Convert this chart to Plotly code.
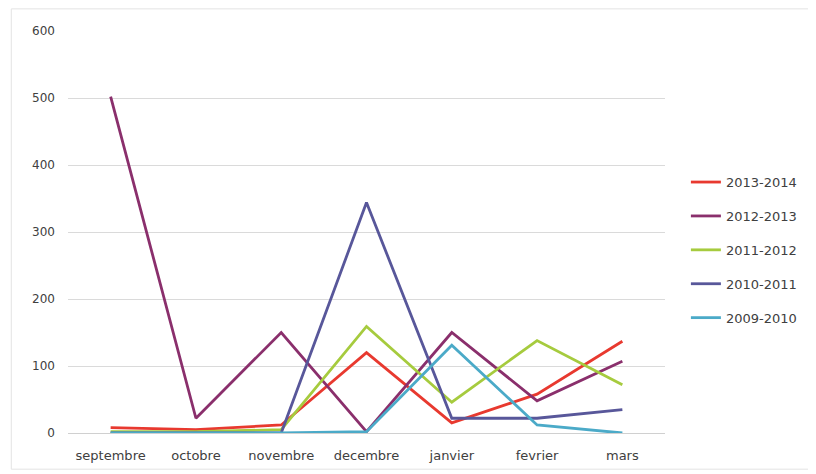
import plotly.graph_objects as go

months = ["septembre", "octobre", "novembre", "decembre", "janvier", "fevrier", "mars"]

s_2013_2014 = [8, 5, 12, 120, 15, 58, 137]
s_2012_2013 = [502, 22, 150, 2, 150, 48, 107]
s_2011_2012 = [2, 2, 5, 159, 46, 138, 72]
s_2010_2011 = [0, 0, 0, 344, 22, 22, 35]
s_2009_2010 = [0, 0, 0, 2, 131, 12, 0]

series = [
    ("2013-2014", s_2013_2014, "#E8392F"),
    ("2012-2013", s_2012_2013, "#8A2F6C"),
    ("2011-2012", s_2011_2012, "#A6CB3E"),
    ("2010-2011", s_2010_2011, "#58579A"),
    ("2009-2010", s_2009_2010, "#4BAAC8"),
]

fig = go.Figure()
for name, vals, col in series:
    fig.add_trace(go.Scatter(
        x=months, y=vals, name=name, mode="lines",
        line=dict(color=col, width=2.8),
        legendgroup=name,
    ))

fig.update_layout(
    width=808, height=466,
    margin=dict(l=60, r=151, t=23, b=41),
    paper_bgcolor="white", plot_bgcolor="white",
    font=dict(family="DejaVu Sans, Liberation Sans, sans-serif", size=13, color="#404040"),
    showlegend=True,
    legend=dict(
        x=1.035, xanchor="left", y=0.455, yanchor="middle",
        traceorder="grouped", tracegroupgap=14,
        font=dict(size=13, color="#404040"),
        bgcolor="rgba(0,0,0,0)",
    ),
    xaxis=dict(
        type="category", range=[-0.5, 6.5], automargin=False,
        showgrid=False, showline=False, zeroline=False,
        ticks="", ticklabelstandoff=13,
        tickfont=dict(size=13, color="#404040"),
    ),
    yaxis=dict(
        range=[0, 600], tickvals=[0, 100, 200, 300, 400, 500, 600],
        automargin=False,
        showgrid=True, gridcolor="#DADADA", gridwidth=1,
        zeroline=True, zerolinecolor="#D0D0D0", zerolinewidth=1,
        showline=False, ticks="", ticklen=0,
        ticklabelstandoff=12,
        tickfont=dict(size=12, color="#404040"),
    ),
)

fig.add_shape(type="rect", xref="paper", yref="paper",
              x0=-0.095, x1=1.245, y0=-0.09, y1=1.055,
              line=dict(color="#E3E3E3", width=1))

fig.write_html("out.html")
